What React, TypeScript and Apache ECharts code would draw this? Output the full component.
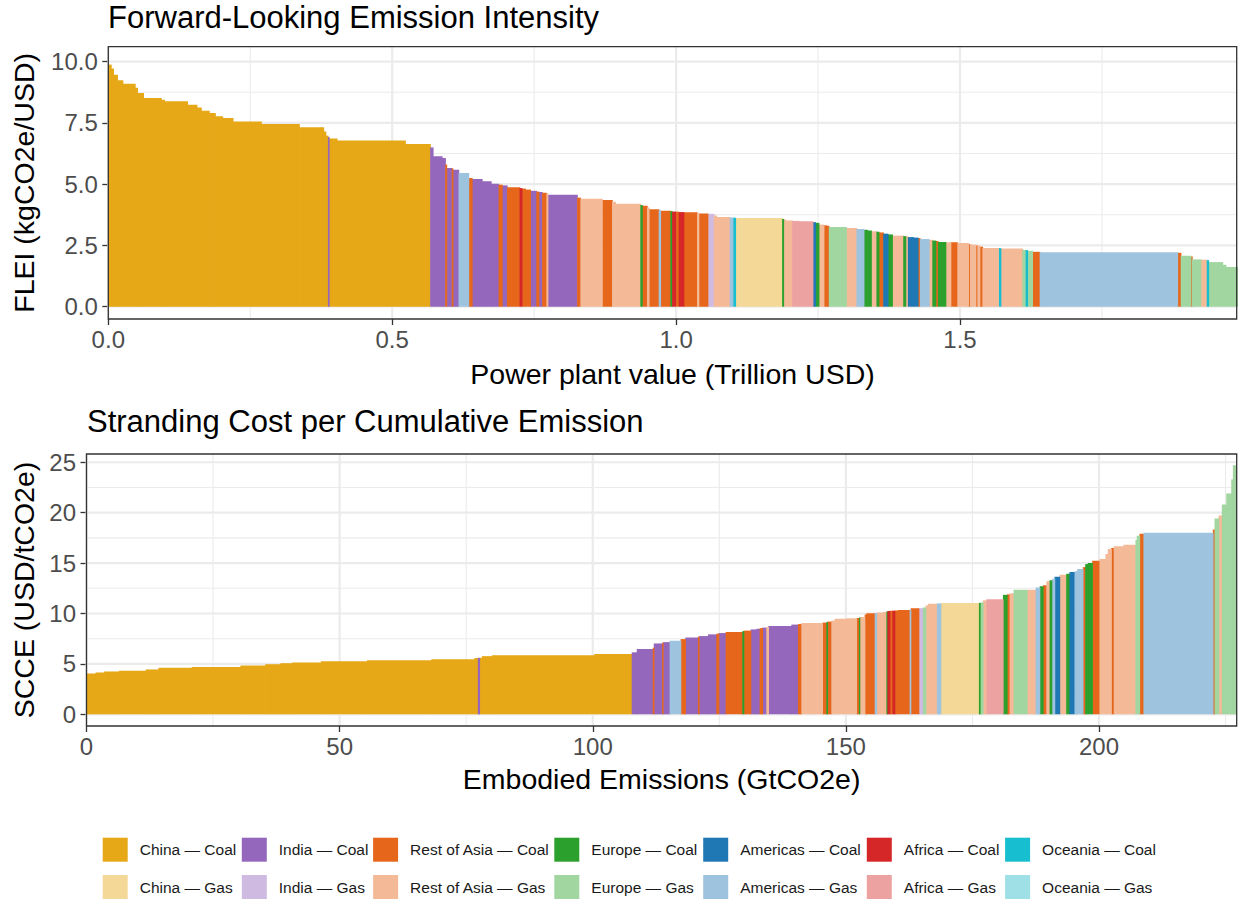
import React, { useEffect, useRef } from "react";
import * as echarts from "echarts";

const FONT = '"Liberation Sans", Arial, Helvetica, sans-serif';

// Regions, their one-letter codes (used in the group arrays below) and fill colours.
const REGIONS = ["China", "India", "Rest of Asia", "Europe", "Americas", "Africa", "Oceania"];
const REGION_CODES = ["C", "I", "R", "E", "A", "F", "O"];
const COAL_COLORS = ["#E6A817", "#9467BD", "#E6671C", "#2CA02C", "#1F77B4", "#D62728", "#17BECF"];
const GAS_COLORS = ["#F4D897", "#CFBAE1", "#F4BA98", "#A1D6A1", "#9DC3DF", "#EDA2A2", "#9FE0E7"];

// ---- Forward-Looking Emission Intensity (sorted high -> low) ----
// width = power plant value (Trillion USD), value = FLEI (kgCO2e/USD), group = region+fuel
const FLEI_WIDTH = [
  0.0048, 0.004, 0.007, 0.0095, 0.0217, 0.0041, 0.0106, 0.0312, 0.0058, 0.0405,
  0.0166, 0.0076, 0.0141, 0.0106, 0.0129, 0.0183, 0.0499, 0.0669, 0.0428, 0.0039,
  0.004, 0.0018, 0.0139, 0.1203, 0.044, 0.0048, 0.0159, 0.0058, 0.0023, 0.0092,
  0.0018, 0.0102, 0.0176, 0.006, 0.0176, 0.0159, 0.0134, 0.006, 0.0088, 0.0222,
  0.0039, 0.0062, 0.0088, 0.0106, 0.0041, 0.006, 0.0076, 0.0023, 0.0518, 0.0058,
  0.0382, 0.0176, 0.0058, 0.044, 0.003, 0.0088, 0.0032, 0.0173, 0.003, 0.0176,
  0.003, 0.0058, 0.0058, 0.0088, 0.0236, 0.0028, 0.0159, 0.0106, 0.0048, 0.0234,
  0.0065, 0.0035, 0.0823, 0.0023, 0.0035, 0.0118, 0.0116, 0.0247, 0.0048, 0.0058,
  0.0088, 0.0048, 0.0041, 0.0306, 0.0181, 0.0129, 0.006, 0.007, 0.0093, 0.0041,
  0.0078, 0.0081, 0.0078, 0.0194, 0.0041, 0.0041, 0.0095, 0.0081, 0.0035, 0.0159,
  0.006, 0.0058, 0.0041, 0.0136, 0.0088, 0.0118, 0.0194, 0.0028, 0.0042, 0.0058,
  0.003, 0.0041, 0.0048, 0.0292, 0.003, 0.0382, 0.0058, 0.003, 0.0088, 0.0129,
  0.2426, 0.0058, 0.0176, 0.0023, 0.0153, 0.0106, 0.003, 0.0247, 0.0058, 0.0206,
];
const FLEI_VALUE = [
  9.88, 9.72, 9.47, 9.24, 9.1, 8.93, 8.72, 8.52, 8.45, 8.38,
  8.24, 8.13, 8.0, 7.9, 7.77, 7.7, 7.56, 7.46, 7.32, 7.15,
  6.98, 6.92, 6.86, 6.78, 6.64, 6.5, 6.14, 6.07, 5.8, 5.66,
  5.64, 5.59, 5.46, 5.25, 5.21, 5.12, 5.02, 4.98, 4.95, 4.87,
  4.84, 4.82, 4.78, 4.73, 4.7, 4.68, 4.65, 4.62, 4.57, 4.45,
  4.41, 4.35, 4.28, 4.2, 4.15, 4.12, 4.05, 3.98, 3.95, 3.92,
  3.9, 3.88, 3.88, 3.86, 3.85, 3.82, 3.8, 3.79, 3.72, 3.66,
  3.64, 3.63, 3.62, 3.58, 3.56, 3.52, 3.5, 3.49, 3.45, 3.42,
  3.35, 3.32, 3.3, 3.25, 3.21, 3.17, 3.14, 3.11, 3.08, 3.06,
  3.03, 2.98, 2.95, 2.9, 2.88, 2.87, 2.84, 2.82, 2.8, 2.76,
  2.73, 2.7, 2.68, 2.64, 2.63, 2.63, 2.6, 2.55, 2.54, 2.53,
  2.5, 2.49, 2.45, 2.4, 2.39, 2.37, 2.32, 2.31, 2.28, 2.24,
  2.22, 2.2, 2.08, 2.05, 1.93, 1.92, 1.9, 1.82, 1.71, 1.62,
];
const FLEI_GROUP = [
  "CC", "CC", "CC", "CC", "CC", "CC", "CC", "CC", "CC", "CC",
  "CC", "CC", "CC", "CC", "CC", "CC", "CC", "CC", "CC", "CC",
  "CC", "IC", "CC", "CC", "CC", "IC", "IC", "IC", "RC", "IC",
  "RC", "IC", "AG", "RC", "IC", "IC", "IC", "RC", "IC", "RC",
  "FC", "RC", "RC", "IC", "RC", "IC", "RC", "RG", "IC", "RC",
  "RG", "RC", "RG", "RG", "EC", "RC", "RG", "RC", "AG", "RC",
  "EC", "FC", "RC", "FC", "RC", "RG", "RC", "IG", "RG", "RG",
  "AG", "OC", "CG", "EC", "RG", "RG", "FG", "FG", "AC", "EC",
  "RG", "RC", "RC", "EG", "RG", "AG", "EC", "EC", "RG", "EC",
  "RC", "AC", "EC", "RG", "EC", "RG", "AC", "AC", "RC", "AG",
  "RG", "EC", "RC", "EC", "RG", "RC", "RG", "RC", "RG", "RG",
  "RC", "RG", "RC", "RG", "OC", "RG", "EG", "OC", "EG", "RC",
  "AG", "RC", "EG", "RC", "EG", "RG", "OC", "EG", "EG", "EG",
];

// ---- Stranding Cost per Cumulative Emission (sorted low -> high) ----
// width = embodied emissions (GtCO2e), value = SCCE (USD/tCO2e)
const SCCE_WIDTH = [
  1.8, 1.7, 2.9, 5.3, 2.5, 6.6, 9.6, 4.9, 3.0, 2.3,
  5.7, 9.1, 12.7, 8.5, 0.7, 0.3, 0.5, 2.0, 20.2, 7.4,
  0.99, 3.16, 0.2, 1.66, 0.15, 1.32, 2.17, 0.93, 2.49, 0.2,
  1.78, 1.66, 0.45, 1.38, 3.3, 0.26, 1.38, 1.13, 0.65, 0.53,
  0.79, 0.4, 4.55, 1.3, 0.67, 4.15, 0.79, 0.2, 0.79, 0.65,
  2.31, 1.98, 0.51, 0.14, 0.99, 0.34, 1.64, 0.34, 1.3, 0.67,
  0.2, 0.45, 0.53, 0.45, 0.65, 2.31, 0.2, 1.58, 0.85, 0.53,
  0.45, 1.78, 0.73, 7.57, 0.34, 0.45, 0.67, 3.28, 0.79, 0.53,
  0.79, 2.63, 1.72, 0.79, 0.65, 0.67, 0.65, 0.53, 0.45, 0.98,
  1.32, 0.65, 0.99, 0.53, 1.11, 0.47, 0.51, 0.87, 1.44, 1.19,
  0.45, 0.67, 0.51, 1.92, 2.37, 0.26, 0.53, 0.79, 13.7, 0.34,
  0.79, 0.65, 0.87, 0.99, 0.32, 0.67,
];
const SCCE_VALUE = [
  4.05, 4.15, 4.25, 4.33, 4.45, 4.62, 4.7, 4.85, 4.97, 5.07,
  5.14, 5.27, 5.37, 5.47, 5.58, 5.6, 5.62, 5.77, 5.87, 5.97,
  6.15, 6.47, 6.6, 7.03, 7.1, 7.16, 7.3, 7.46, 7.63, 7.7,
  7.76, 7.93, 8.0, 8.06, 8.16, 8.25, 8.3, 8.42, 8.48, 8.55,
  8.6, 8.65, 8.76, 8.9, 8.95, 9.05, 9.1, 9.15, 9.2, 9.3,
  9.49, 9.52, 9.55, 9.6, 9.65, 9.9, 10.02, 10.05, 10.1, 10.15,
  10.2, 10.25, 10.27, 10.28, 10.3, 10.35, 10.4, 10.51, 10.53, 10.6,
  10.8, 10.96, 11.0, 11.03, 11.05, 11.1, 11.3, 11.42, 11.85, 11.9,
  12.0, 12.35, 12.36, 12.58, 12.7, 12.8, 13.2, 13.3, 13.45, 13.65,
  13.84, 13.95, 14.11, 14.2, 14.41, 14.6, 14.9, 15.0, 15.24, 15.4,
  15.9, 16.4, 16.5, 16.66, 16.83, 17.3, 17.7, 17.9, 18.0, 18.33,
  19.42, 19.72, 20.8, 21.9, 23.3, 24.7,
];
const SCCE_GROUP = [
  "CC", "CC", "CC", "CC", "CC", "CC", "CC", "CC", "CC", "CC",
  "CC", "CC", "CC", "CC", "CC", "IC", "CC", "CC", "CC", "CC",
  "IC", "IC", "RC", "IC", "RC", "IC", "AG", "RC", "IC", "RC",
  "IC", "IC", "RC", "IC", "RC", "EC", "RC", "IC", "IC", "RC",
  "IC", "RG", "IC", "IC", "RC", "RG", "RC", "EC", "RC", "RG",
  "RG", "RG", "RC", "EC", "RG", "RC", "RC", "AG", "RG", "RG",
  "EC", "FC", "RC", "FC", "RC", "RC", "AG", "RC", "IG", "EG",
  "RG", "RG", "AG", "CG", "EC", "EG", "RG", "FG", "EC", "RC",
  "RG", "EG", "RG", "AG", "EC", "RC", "RG", "EC", "AG", "AC",
  "RG", "EC", "AC", "AG", "AG", "RC", "EC", "EC", "RC", "RG",
  "RG", "RG", "RC", "RG", "RG", "EG", "EG", "RC", "AG", "RC",
  "EG", "RG", "EG", "EG", "EG", "EG",
];

// Axis breaks (major ticks + minor grid lines)
const FLEI_X_TICKS = [0, 0.5, 1.0, 1.5];
const FLEI_X_MINOR = [0.25, 0.75, 1.25, 1.75];
const FLEI_Y_TICKS = [0, 2.5, 5, 7.5, 10];
const FLEI_Y_MINOR = [1.25, 3.75, 6.25, 8.75];
const SCCE_X_TICKS = [0, 50, 100, 150, 200];
const SCCE_X_MINOR = [25, 75, 125, 175, 225];
const SCCE_Y_TICKS = [0, 5, 10, 15, 20, 25];
const SCCE_Y_MINOR = [2.5, 7.5, 12.5, 17.5, 22.5];

const FLEI_X_RANGE = [0, 1.9873];
const FLEI_Y_RANGE = [-0.502, 10.61];
const SCCE_X_RANGE = [0, 227.2];
const SCCE_Y_RANGE = [-1.16, 25.82];

// Split consecutive variable-width bars into [start, end, value] rows per group
function stackSegments(widths: number[], values: number[], groups: string[]) {
  const byGroup: Record<string, number[][]> = {};
  let x = 0;
  for (let i = 0; i < widths.length; i++) {
    const g = groups[i];
    (byGroup[g] = byGroup[g] || []).push([x, x + widths[i], values[i]]);
    x += widths[i];
  }
  return byGroup;
}

function gridRows(xMajor: number[], xMinor: number[], yMajor: number[], yMinor: number[]) {
  const rows: number[][] = [];
  xMinor.forEach((v) => rows.push([v, 0, 0]));
  yMinor.forEach((v) => rows.push([v, 1, 0]));
  xMajor.forEach((v) => rows.push([v, 0, 1]));
  yMajor.forEach((v) => rows.push([v, 1, 1]));
  return rows;
}

function gridSeries(idx: number, rows: number[][], xRef: number, yRef: number) {
  return {
    type: "custom",
    xAxisIndex: idx,
    yAxisIndex: idx,
    silent: true,
    z: 1,
    data: rows,
    renderItem: (params: any, api: any) => {
      const cs = params.coordSys;
      const v = api.value(0);
      const dim = api.value(1);
      const major = api.value(2);
      const style = { stroke: "#EBEBEB", lineWidth: major ? 2.2 : 1.1 };
      if (dim === 0) {
        const px = api.coord([v, yRef])[0];
        return { type: "line", shape: { x1: px, y1: cs.y, x2: px, y2: cs.y + cs.height }, style };
      }
      const py = api.coord([xRef, v])[1];
      return { type: "line", shape: { x1: cs.x, y1: py, x2: cs.x + cs.width, y2: py }, style };
    },
  };
}

function barSeries(idx: number, byGroup: Record<string, number[][]>) {
  const out: any[] = [];
  REGIONS.forEach((region, r) => {
    ["C", "G"].forEach((fuel) => {
      const code = REGION_CODES[r] + fuel;
      const color = fuel === "C" ? COAL_COLORS[r] : GAS_COLORS[r];
      out.push({
        type: "custom",
        name: `${region} — ${fuel === "C" ? "Coal" : "Gas"}`,
        xAxisIndex: idx,
        yAxisIndex: idx,
        z: 2,
        itemStyle: { color },
        encode: { x: [0, 1], y: 2 },
        data: byGroup[code] || [],
        renderItem: (_params: any, api: any) => {
          const tl = api.coord([api.value(0), api.value(2)]);
          const br = api.coord([api.value(1), 0]);
          // a small overlap to the right hides anti-aliasing seams between neighbours
          return {
            type: "rect",
            shape: { x: tl[0], y: tl[1], width: Math.max(br[0] - tl[0], 0.5) + 0.7, height: br[1] - tl[1] },
            style: { fill: color },
          };
        },
      });
    });
  });
  return out;
}

function valueAxis(idx: number, range: number[], ticks: number[], fmt: (v: number) => string, isX: boolean) {
  return {
    type: "value",
    gridIndex: idx,
    min: range[0],
    max: range[1],
    position: isX ? "bottom" : "left",
    axisLine: { show: false, onZero: false },
    axisTick: { show: true, length: 6, lineStyle: { color: "#333333", width: 1.3 }, customValues: ticks },
    axisLabel: {
      customValues: ticks,
      formatter: fmt,
      fontSize: 24,
      color: "#4D4D4D",
      fontFamily: FONT,
      margin: isX ? 8.5 : 10.5,
    },
    splitLine: { show: false },
  };
}

const LEGEND_LEFT = [102.7, 241.8, 373.1, 554.3, 703.2, 866.8, 1005.1];

function buildOption() {
  const fleiRects = stackSegments(FLEI_WIDTH, FLEI_VALUE, FLEI_GROUP);
  const scceRects = stackSegments(SCCE_WIDTH, SCCE_VALUE, SCCE_GROUP);
  const textBase = { fontFamily: FONT, fill: "#000000" };
  return {
    animation: false,
    textStyle: { fontFamily: FONT },
    grid: [
      { left: 108.3, top: 46.7, width: 1128.4, height: 272.3, show: true, borderColor: "#333333", borderWidth: 1.3, backgroundColor: "transparent", z: 10 },
      { left: 86.5, top: 454, width: 1150.2, height: 272, show: true, borderColor: "#333333", borderWidth: 1.3, backgroundColor: "transparent", z: 10 },
    ],
    xAxis: [
      valueAxis(0, FLEI_X_RANGE, FLEI_X_TICKS, (v) => v.toFixed(1), true),
      valueAxis(1, SCCE_X_RANGE, SCCE_X_TICKS, (v) => String(v), true),
    ],
    yAxis: [
      valueAxis(0, FLEI_Y_RANGE, FLEI_Y_TICKS, (v) => v.toFixed(1), false),
      valueAxis(1, SCCE_Y_RANGE, SCCE_Y_TICKS, (v) => String(v), false),
    ],
    legend: REGIONS.map((region, i) => ({
      orient: "vertical",
      left: LEGEND_LEFT[i],
      top: 837.7,
      padding: 0,
      itemWidth: 25,
      itemHeight: 24,
      itemGap: 13.3,
      icon: "rect",
      selectedMode: false,
      data: [`${region} — Coal`, `${region} — Gas`],
      textStyle: { fontSize: 15.5, color: "#1A1A1A", fontFamily: FONT, padding: [0, 0, 0, 7] },
    })),
    graphic: [
      { type: "text", x: 108, y: 17.5, style: { ...textBase, text: "Forward-Looking Emission Intensity", fontSize: 31, align: "left", verticalAlign: "middle" } },
      { type: "text", x: 87, y: 421, style: { ...textBase, text: "Stranding Cost per Cumulative Emission", fontSize: 31, align: "left", verticalAlign: "middle" } },
      { type: "text", x: 672.5, y: 374, style: { ...textBase, text: "Power plant value (Trillion USD)", fontSize: 28.5, align: "center", verticalAlign: "middle" } },
      { type: "text", x: 661.6, y: 779, style: { ...textBase, text: "Embodied Emissions (GtCO2e)", fontSize: 28.5, align: "center", verticalAlign: "middle" } },
      { type: "text", x: 23.5, y: 182.9, rotation: Math.PI / 2, style: { ...textBase, text: "FLEI (kgCO2e/USD)", fontSize: 28.5, align: "center", verticalAlign: "middle" } },
      { type: "text", x: 23.5, y: 590, rotation: Math.PI / 2, style: { ...textBase, text: "SCCE (USD/tCO2e)", fontSize: 28.5, align: "center", verticalAlign: "middle" } },
    ],
    series: [
      gridSeries(0, gridRows(FLEI_X_TICKS, FLEI_X_MINOR, FLEI_Y_TICKS, FLEI_Y_MINOR), FLEI_X_RANGE[0], 0),
      gridSeries(1, gridRows(SCCE_X_TICKS, SCCE_X_MINOR, SCCE_Y_TICKS, SCCE_Y_MINOR), SCCE_X_RANGE[0], 0),
      ...barSeries(0, fleiRects),
      ...barSeries(1, scceRects),
    ],
  };
}

export default function App() {
  const ref = useRef<HTMLDivElement>(null);
  useEffect(() => {
    document.body.style.margin = "0";
    const chart = echarts.init(ref.current as HTMLDivElement, null, { renderer: "svg" });
    chart.setOption(buildOption() as any);
    return () => chart.dispose();
  }, []);
  return <div ref={ref} style={{ width: 1238, height: 901, background: "#ffffff" }} />;
}
